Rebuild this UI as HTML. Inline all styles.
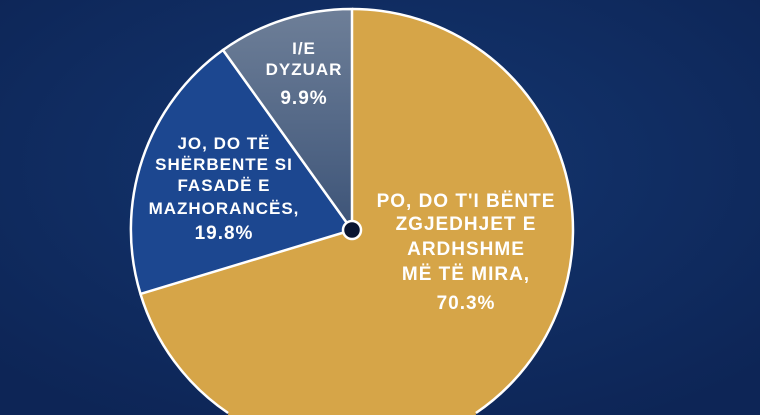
<!DOCTYPE html>
<html><head><meta charset="utf-8"><style>
html,body{margin:0;padding:0;width:760px;height:415px;overflow:hidden;background:#0f2a5f;}
svg{display:block}
text{font-family:"Liberation Sans",sans-serif;font-weight:bold;fill:#fff;text-anchor:middle;}
</style></head><body>
<svg width="760" height="415" viewBox="0 0 760 415" overflow="hidden">
<defs>
<radialGradient id="bg" cx="50%" cy="40%" r="70%">
<stop offset="0" stop-color="#143670"/><stop offset="1" stop-color="#0d2556"/></radialGradient>
<linearGradient id="gr" x1="0" y1="0" x2="0" y2="1">
<stop offset="0" stop-color="#6e7f98"/><stop offset="1" stop-color="#3d5478"/></linearGradient>
</defs>
<rect width="760" height="415" fill="url(#bg)"/>
<path d="M352,230 L352,9 A221,221 0 0 1 475.9,413 L475.9,415 L228.1,415 L228.1,413 A221,221 0 0 1 140.5,294 Z" fill="#d6a548"/>
<g stroke="#fff" stroke-width="2.5" fill="none">
<path d="M352,9 A221,221 0 0 1 475.9,413"/>
<path d="M228.1,413 A221,221 0 0 1 140.5,294"/>
</g>
<g stroke="#fff" stroke-width="2.5">
<path d="M352,230 L140.5,294 A221,221 0 0 1 223,50 Z" fill="#1c4790"/>
<path d="M352,230 L223,50 A221,221 0 0 1 352,9 Z" fill="url(#gr)"/>
</g>
<circle cx="352" cy="230" r="9" fill="#0a1530" stroke="#fff" stroke-width="2.5"/>
<g font-size="17" letter-spacing="1">
<text x="304" y="54">I/E</text>
<text x="304" y="75">DYZUAR</text>
<text x="304" y="104" font-size="19">9.9%</text>
<text x="224" y="149">JO, DO TË</text>
<text x="224" y="170">SHËRBENTE SI</text>
<text x="224" y="191">FASADË E</text>
<text x="224" y="214">MAZHORANCËS,</text>
<text x="224" y="239" font-size="19">19.8%</text>
</g>
<g font-size="19" letter-spacing="1">
<text x="466" y="207">PO, DO T'I BËNTE</text>
<text x="466" y="230">ZGJEDHJET E</text>
<text x="466" y="255">ARDHSHME</text>
<text x="466" y="280">MË TË MIRA,</text>
<text x="466" y="309">70.3%</text>
</g>
</svg>
</body></html>
